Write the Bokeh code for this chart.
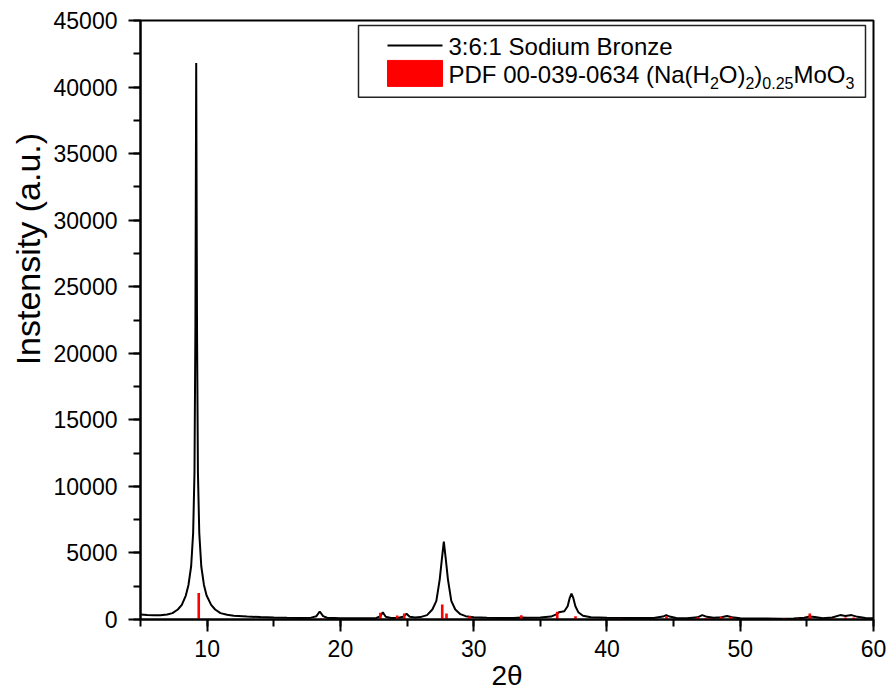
from bokeh.plotting import figure
from bokeh.models import Range1d, SingleIntervalTicker, Title
from bokeh.core.properties import value
from bokeh.embed import file_html
from bokeh.resources import INLINE

# ---- measured XRD pattern (2theta, intensity) ----
two_theta = [5.0, 5.5, 6.0, 6.5, 7.0, 7.4, 7.8, 8.1, 8.4, 8.6, 8.8, 8.95, 9.05, 9.12, 9.18,
             9.24, 9.31, 9.41, 9.56, 9.76, 9.96, 10.3, 10.6, 11.0, 11.5, 12.0, 13.0, 14.0,
             15.0, 16.0, 17.0, 17.8, 18.2, 18.45, 18.7, 19.0, 20.0, 21.0, 22.0, 22.7, 23.0,
             23.18, 23.4, 23.8, 24.3, 24.7, 24.96, 25.2, 25.6, 26.0, 26.5, 26.9, 27.2, 27.45,
             27.62, 27.76, 27.9, 28.07, 28.32, 28.62, 29.0, 29.4, 30.0, 31.0, 32.0, 33.0, 33.6,
             34.0, 35.0, 35.8, 36.2, 36.4, 36.8, 37.05, 37.2, 37.34, 37.48, 37.63, 37.85, 38.2,
             38.8, 40.0, 42.0, 43.5, 44.2, 44.45, 44.7, 45.2, 46.0, 46.8, 47.15, 47.5, 48.0,
             48.6, 49.0, 49.4, 50.0, 51.0, 52.0, 53.0, 54.0, 54.8, 55.2, 55.6, 56.2, 56.9,
             57.5, 57.9, 58.35, 58.8, 59.4, 60.0]
intensity = [380, 340, 320, 320, 380, 480, 750, 1100, 1800, 2600, 4000, 6500, 11000, 22000, 41800,
             22000, 11000, 6500, 4000, 2600, 1800, 1100, 750, 480, 350, 280, 220, 180,
             150, 130, 120, 140, 250, 600, 250, 130, 100, 90, 90, 120, 250,
             550, 200, 120, 120, 200, 430, 200, 150, 180, 330, 750, 1400, 3000,
             4600, 5850, 4600, 3000, 1400, 750, 400, 250, 170, 130, 120, 120, 150,
             130, 150, 220, 380, 550, 620, 1000, 1600, 1950, 1600, 1000, 550, 280,
             170, 130, 110, 120, 220, 330, 220, 120, 100, 160, 330, 200, 130,
             170, 260, 170, 100, 80, 80, 60, 70, 130, 230, 180, 100, 150,
             330, 270, 330, 200, 120, 100]

# ---- reference pattern PDF 00-039-0634 ----
ref_pos = [9.37, 18.56, 23.0, 24.26, 24.79, 27.64, 27.96, 29.69, 33.57, 36.27, 37.64, 40.94,
           44.47, 46.82, 47.4, 47.72, 48.57, 49.32, 52.4, 53.27, 54.32, 55.22, 56.9, 57.9, 58.52]
ref_int = [2000, 75, 500, 300, 450, 1125, 450, 250, 325, 575, 250, 50,
           250, 175, 100, 100, 200, 200, 50, 75, 75, 450, 100, 150, 150]

series_label = "3:6:1 Sodium Bronze"
ref_label_parts = [("PDF 00-039-0634 (Na(H", False), ("2", True), ("O)", False), ("2", True),
                   (")", False), ("0.25", True), ("MoO", False), ("3", True)]
y_title = "Instensity (a.u.)"
x_title = "2θ"

X0, X1, Y0, Y1 = 5, 60, 0, 45000
FL, FR, FT, FB = 140, 873, 20, 620   # frame in pixels


def dx(px):
    return X0 + (px - FL) * (X1 - X0) / (FR - FL)


def dy(py):
    return Y0 + (FB - py) * (Y1 - Y0) / (FB - FT)


p = figure(width=888, height=693, x_range=Range1d(X0, X1), y_range=Range1d(Y0, Y1),
           output_backend="svg", toolbar_location=None,
           min_border_left=FL, min_border_right=888 - FR, min_border_top=FT,
           min_border_bottom=693 - FB)
p.grid.visible = False
p.background_fill_color = "white"
p.border_fill_color = "white"
p.outline_line_color = "black"
p.outline_line_width = 2

p.line(two_theta, intensity, line_color="black", line_width=2)
p.segment(x0=ref_pos, y0=[0] * len(ref_pos), x1=ref_pos, y1=ref_int,
          line_color="#ff0000", line_width=2.6)

FONT = "Liberation Sans"
p.xaxis.ticker = SingleIntervalTicker(interval=10, num_minor_ticks=2)
p.yaxis.ticker = SingleIntervalTicker(interval=5000, num_minor_ticks=2)
for ax in (p.xaxis, p.yaxis):
    ax.axis_line_width = 2
    ax.axis_line_color = "black"
    ax.major_tick_line_width = 2
    ax.minor_tick_line_width = 2
    ax.major_tick_in = 0
    ax.major_tick_out = 12
    ax.minor_tick_in = 0
    ax.minor_tick_out = 7
    ax.major_label_text_font = FONT
    ax.major_label_text_color = "black"
    ax.axis_label_text_font = FONT
    ax.axis_label_text_font_style = "normal"
    ax.axis_label_text_color = "black"

p.yaxis.major_label_standoff = 11
p.xaxis.major_label_standoff = 8
p.yaxis.major_label_text_font_size = "23px"
p.xaxis.major_label_text_font_size = "23px"
p.xaxis.axis_label = x_title
p.xaxis.axis_label_text_font_size = "28px"
p.xaxis.axis_label_standoff = 0

# y title as a side title; leading no-break spaces lift it above the frame centre,
# where it sits in the reference
p.add_layout(Title(text="\u00a0" * 15 + y_title, align="center", text_font=FONT,
                   text_font_size="34px", text_font_style="normal", text_color="black",
                   standoff=8), "left")

# ---- legend drawn by hand (for subscripts) ----
p.quad(left=[dx(358)], right=[dx(865)], top=[dy(25)], bottom=[dy(97)],
       fill_color="white", line_color="#222222", line_width=1.5)
p.line([dx(387), dx(442)], [dy(45), dy(45)], line_color="black", line_width=2)
p.quad(left=[dx(387)], right=[dx(442)], top=[dy(60)], bottom=[dy(86)],
       fill_color="#ff0000", line_color="#ff0000")

LF, SF = 24, 16
p.text(x=[dx(448)], y=[dy(46)], text=[series_label], text_font=value(FONT),
       text_font_size=f"{LF}px", text_baseline="middle", text_align="left", text_color="black")

W = {'P': .667, 'D': .722, 'F': .611, ' ': .278, '-': .333, '(': .333, ')': .333,
     'N': .722, 'a': .556, 'H': .722, 'O': .778, 'M': .833, 'o': .556, '.': .278}
cur = 448
for txt, sub in ref_label_parts:
    size = SF if sub else LF
    p.text(x=[dx(cur)], y=[dy(83 if sub else 74)], text=[txt], text_font=value(FONT),
           text_font_size=f"{size}px", text_baseline="middle", text_align="left",
           text_color="black")
    cur += sum(W.get(c, .556) for c in txt) * size

open("out.html", "w").write(file_html(p, INLINE))
